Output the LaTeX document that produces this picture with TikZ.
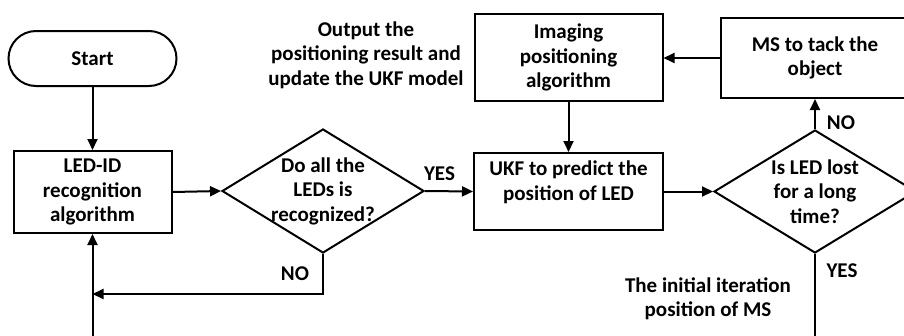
\documentclass[tikz,border=0pt]{standalone}
\usepackage{fontspec}
\setmainfont{Carlito}
\usetikzlibrary{arrows.meta,shapes.geometric}
\tikzset{
  base/.style={draw=black, line width=2pt, align=center, font=\bfseries\fontsize{21}{24.5}\selectfont, inner sep=0pt},
  term/.style={base, rectangle, rounded corners=27.5pt},
  proc/.style={base, rectangle},
  decide/.style={base, diamond, inner sep=-14pt},
  lbl/.style={align=center, font=\bfseries\fontsize{21}{24.5}\selectfont, inner sep=0pt},
  conn/.style={line width=2pt, draw=black},
  arr/.style={conn, -{Triangle[length=11pt,width=10pt]}}
}
\begin{document}
\begin{tikzpicture}[x=1pt, y=-1pt]
\useasboundingbox (0,0) rectangle (904,335);
\clip (0,0) rectangle (904,335);
\fill[white] (0,0) rectangle (904,335);
% nodes
\node[term, minimum width=168pt, minimum height=55pt] (start) at (92.5,58.5) {Start};
\node[proc, minimum width=158pt, minimum height=82pt] (led) at (92.5,192) {LED-ID\\recognition\\algorithm};
\node[decide, minimum width=202pt, minimum height=124pt] (d1) at (323,191) {Do all the\\LEDs is\\recognized?};
\node[proc, minimum width=189pt, minimum height=77pt] (ukf) at (568.5,191.5) {UKF to predict the\\position of LED\\[-3pt]};
\node[proc, minimum width=188pt, minimum height=87pt] (img) at (568.5,57.5) {Imaging\\positioning\\algorithm};
\node[proc, minimum width=188pt, minimum height=80pt] (ms) at (815,58) {MS to tack the\\object};
\node[decide, minimum width=202pt, minimum height=123pt] (d2) at (815,191.5) {Is LED lost\\for a long\\time?};
% free text
\node[lbl] (out) at (366,55) {Output the\\positioning result and\\update the UKF model};
\node[lbl] (init) at (708,299) {The initial iteration\\position of MS};
% labels
\node[lbl] (no1) at (295,274) {NO};
\node[lbl] (yes1) at (439.5,174) {YES};
\node[lbl] (no2) at (841,123) {NO};
\node[lbl] (yes2) at (842,271) {YES};
% coordinates
\coordinate (jn) at (92.5,294);
\coordinate (bl) at (92.5,345);
\coordinate (br) at (815,345);
% connectors
\draw[arr] (start.south) -- (led.north);
\draw[arr] (led.east) -- (d1.west);
\draw[arr] (d1.south) |- (jn);
\draw[arr] (bl) -- (led.south);
\draw[arr] (d1.east) -- (ukf.west);
\draw[arr] (img.south) -- (ukf.north);
\draw[arr] (ukf.east) -- (d2.west);
\draw[arr] (d2.north) -- (ms.south);
\draw[arr] (ms.west) -- (ms.west -| img.east);
\draw[conn] (d2.south) -- (br);
\end{tikzpicture}
\end{document}
